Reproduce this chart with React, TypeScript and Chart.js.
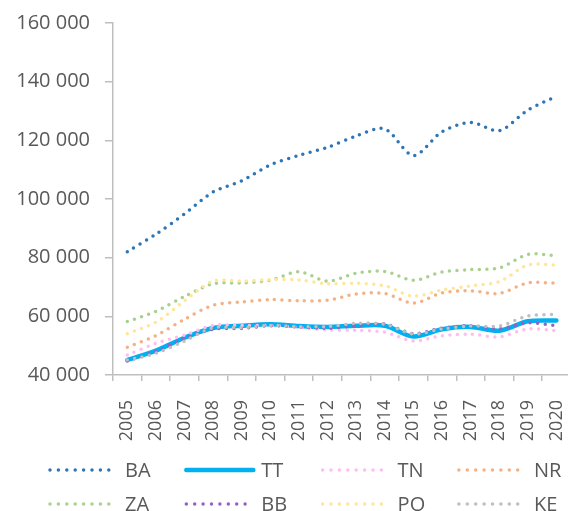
import React, { useEffect, useRef } from 'react';
import { Chart, registerables } from 'chart.js';

Chart.register(...registerables);

const years = ['2005', '2006', '2007', '2008', '2009', '2010', '2011', '2012', '2013', '2014', '2015', '2016', '2017', '2018', '2019', '2020'];

const BA = [82000, 88000, 94900, 102400, 106200, 111600, 114900, 117600, 121500, 123900, 114800, 122900, 126100, 123300, 130300, 135000];
const TT = [45100, 48300, 52700, 56000, 56800, 57300, 56700, 56400, 56800, 56800, 53100, 55600, 56400, 55100, 58300, 58600];
const TN = [46800, 50800, 53600, 56900, 56900, 56800, 56300, 55400, 55200, 54600, 51600, 53400, 53900, 53000, 55700, 55100];
const NR = [49500, 53400, 59000, 63800, 64900, 65700, 65300, 65500, 67600, 67800, 64500, 68000, 68700, 67800, 71400, 71300];
const ZA = [58200, 61700, 66800, 71100, 71400, 72300, 75200, 72000, 74700, 75300, 72300, 75100, 75900, 76500, 81100, 80700];
const BB = [44800, 48000, 52500, 55600, 55900, 56800, 56400, 55900, 56800, 57400, 54100, 56000, 56800, 55700, 57800, 56800];
const PO = [54100, 58000, 65300, 72000, 72000, 72500, 72400, 71100, 71300, 70400, 66900, 69000, 70400, 71800, 77500, 77500];
const KE = [45100, 47400, 51600, 56100, 56100, 56900, 56500, 56500, 57600, 57300, 54000, 55700, 56700, 56700, 60100, 60700];

const seriesNames = ['BA', 'TT', 'TN', 'NR', 'ZA', 'BB', 'PO', 'KE'];
const seriesData = [BA, TT, TN, NR, ZA, BB, PO, KE];
const seriesColors = ['#2e75b6', '#00b0f0', '#ffbdf2', '#f4b183', '#a9d18e', '#9461c4', '#ffe699', '#bfbfbf'];
const seriesSolid = [false, true, false, false, false, false, false, false];

const yMin = 40000;
const yMax = 160000;
const yStep = 20000;

const FONT = "'Open Sans', sans-serif";
const TEXT = '#595959';
const AXIS = '#bfbfbf';
const SHIFT_Y = 4;

const fmt = (v: number) => String(Math.round(v)).replace(/\B(?=(\d{3})+(?!\d))/g, ' ');

const legendPlugin = {
  id: 'customLegend',
  afterDraw(chart: any) {
    const ctx = chart.ctx as CanvasRenderingContext2D;
    ctx.save();
    seriesNames.forEach((name, i) => {
      const col = i % 4;
      const row = Math.floor(i / 4);
      const x0 = 49 + col * 136.3;
      const y = 470 + SHIFT_Y + row * 34;
      ctx.beginPath();
      ctx.strokeStyle = seriesColors[i];
      if (seriesSolid[i]) {
        ctx.setLineDash([]);
        ctx.lineWidth = 4.5;
        ctx.lineCap = 'round';
      } else {
        ctx.setLineDash([0, 8.4]);
        ctx.lineWidth = 3.5;
        ctx.lineCap = 'round';
      }
      ctx.moveTo(x0 + 1, y);
      ctx.lineTo(x0 + 68, y);
      ctx.stroke();
      ctx.setLineDash([]);
      ctx.fillStyle = TEXT;
      ctx.font = `20px ${FONT}`;
      ctx.textAlign = 'left';
      ctx.textBaseline = 'middle';
      ctx.fillText(name, x0 + 76, y + 1);
    });
    ctx.restore();
  },
};

export default function App() {
  const ref = useRef<HTMLCanvasElement>(null);

  useEffect(() => {
    const canvas = ref.current;
    if (!canvas) return;
    const n = seriesNames.length;
    const chart = new Chart(canvas, {
      type: 'line',
      data: {
        labels: years,
        datasets: seriesNames.map((name, i) => ({
          label: name,
          data: seriesData[i],
          borderColor: seriesColors[i],
          backgroundColor: seriesColors[i],
          borderWidth: seriesSolid[i] ? 4.5 : 3.5,
          borderDash: seriesSolid[i] ? [] : [0, 7.5],
          borderCapStyle: 'round',
          borderJoinStyle: 'round',
          pointRadius: 0,
          pointHoverRadius: 0,
          tension: 0.3,
          fill: false,
          order: n - 1 - i,
        })),
      },
      options: {
        responsive: false,
        animation: false,
        devicePixelRatio: 1,
        layout: { padding: { left: 0, top: 0, right: 0, bottom: 66 } },
        plugins: {
          legend: { display: false },
          tooltip: { enabled: false },
        },
        scales: {
          x: {
            type: 'category',
            offset: true,
            afterFit: (scale: any) => {
              scale.height = 85;
            },
            grid: {
              offset: true,
              drawOnChartArea: false,
              drawTicks: true,
              tickLength: 6,
              color: AXIS,
              lineWidth: 1.5,
            },
            border: { display: true, color: AXIS, width: 1.5 },
            ticks: {
              autoSkip: false,
              minRotation: 90,
              maxRotation: 90,
              padding: 19,
              color: TEXT,
              font: { family: FONT, size: 18 },
            },
          },
          y: {
            min: yMin,
            max: yMax,
            afterFit: (scale: any) => {
              scale.width = 113;
            },
            grid: {
              drawOnChartArea: false,
              drawTicks: true,
              tickLength: 8,
              color: AXIS,
              lineWidth: 1.5,
            },
            border: { display: true, color: AXIS, width: 1.5 },
            ticks: {
              stepSize: yStep,
              padding: 15,
              color: TEXT,
              font: { family: FONT, size: 20 },
              callback: (v: any) => fmt(Number(v)),
            },
          },
        },
      },
      plugins: [legendPlugin],
    } as any);
    return () => chart.destroy();
  }, []);

  return (
    <div style={{ position: 'fixed', left: 0, top: 0, width: 568, height: 511, overflow: 'hidden', background: '#fff' }}>
      <canvas ref={ref} width={597} height={530} style={{ display: 'block', position: 'absolute', left: 0, top: -SHIFT_Y }} />
    </div>
  );
}
